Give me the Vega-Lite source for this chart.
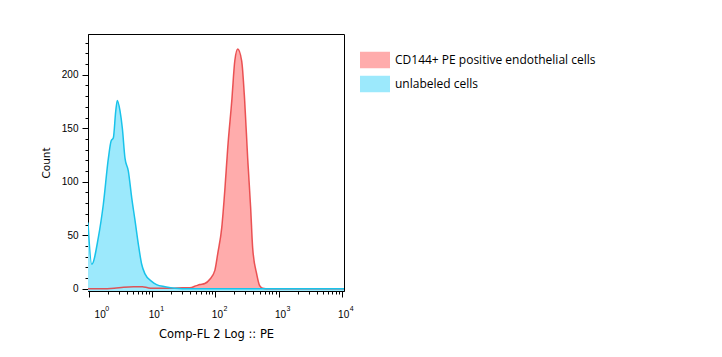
{
  "$schema": "https://vega.github.io/schema/vega-lite/v6.json",
  "width": 256,
  "height": 257,
  "autosize": {"type": "none"},
  "padding": {"left": 88, "top": 34, "right": 378, "bottom": 66},
  "background": "white",
  "config": {
    "view": {"stroke": "black", "strokeWidth": 1},
    "axis": {"grid": false, "domainColor": "black", "tickColor": "black", "labelColor": "black", "titleColor": "black", "domainWidth": 1, "tickWidth": 1},
    "legend": {"padding": 0}
  },
  "resolve": {"axis": {"x": "independent", "y": "independent"}},
  "datasets": {
    "hist": [
      {"series": "CD144+ PE positive endothelial cells", "x": 0.96, "count": 0},
      {"series": "CD144+ PE positive endothelial cells", "x": 1.5, "count": 0},
      {"series": "CD144+ PE positive endothelial cells", "x": 2.5, "count": 0.5},
      {"series": "CD144+ PE positive endothelial cells", "x": 3.5, "count": 1.5},
      {"series": "CD144+ PE positive endothelial cells", "x": 5, "count": 2},
      {"series": "CD144+ PE positive endothelial cells", "x": 7, "count": 2},
      {"series": "CD144+ PE positive endothelial cells", "x": 8.5, "count": 1},
      {"series": "CD144+ PE positive endothelial cells", "x": 10, "count": 0.5},
      {"series": "CD144+ PE positive endothelial cells", "x": 15, "count": 0.5},
      {"series": "CD144+ PE positive endothelial cells", "x": 20, "count": 0.5},
      {"series": "CD144+ PE positive endothelial cells", "x": 30, "count": 1},
      {"series": "CD144+ PE positive endothelial cells", "x": 39.4, "count": 1},
      {"series": "CD144+ PE positive endothelial cells", "x": 50, "count": 3},
      {"series": "CD144+ PE positive endothelial cells", "x": 56.7, "count": 4},
      {"series": "CD144+ PE positive endothelial cells", "x": 68, "count": 5},
      {"series": "CD144+ PE positive endothelial cells", "x": 81.6, "count": 9},
      {"series": "CD144+ PE positive endothelial cells", "x": 97.8, "count": 17},
      {"series": "CD144+ PE positive endothelial cells", "x": 109, "count": 33},
      {"series": "CD144+ PE positive endothelial cells", "x": 126, "count": 57},
      {"series": "CD144+ PE positive endothelial cells", "x": 141, "count": 92},
      {"series": "CD144+ PE positive endothelial cells", "x": 157, "count": 132},
      {"series": "CD144+ PE positive endothelial cells", "x": 182, "count": 176},
      {"series": "CD144+ PE positive endothelial cells", "x": 203, "count": 213},
      {"series": "CD144+ PE positive endothelial cells", "x": 226, "count": 224},
      {"series": "CD144+ PE positive endothelial cells", "x": 261, "count": 213},
      {"series": "CD144+ PE positive endothelial cells", "x": 291, "count": 176},
      {"series": "CD144+ PE positive endothelial cells", "x": 325, "count": 122},
      {"series": "CD144+ PE positive endothelial cells", "x": 362, "count": 76},
      {"series": "CD144+ PE positive endothelial cells", "x": 390, "count": 38},
      {"series": "CD144+ PE positive endothelial cells", "x": 451, "count": 14},
      {"series": "CD144+ PE positive endothelial cells", "x": 503, "count": 3},
      {"series": "CD144+ PE positive endothelial cells", "x": 561, "count": 0.5},
      {"series": "CD144+ PE positive endothelial cells", "x": 700, "count": 0},
      {"series": "CD144+ PE positive endothelial cells", "x": 10900, "count": 0},
      {"series": "unlabeled cells", "x": 0.96, "count": 62},
      {"series": "unlabeled cells", "x": 1.1, "count": 23},
      {"series": "unlabeled cells", "x": 1.4, "count": 48},
      {"series": "unlabeled cells", "x": 1.68, "count": 79},
      {"series": "unlabeled cells", "x": 2.02, "count": 122},
      {"series": "unlabeled cells", "x": 2.23, "count": 138},
      {"series": "unlabeled cells", "x": 2.42, "count": 141},
      {"series": "unlabeled cells", "x": 2.64, "count": 166},
      {"series": "unlabeled cells", "x": 2.8, "count": 176},
      {"series": "unlabeled cells", "x": 3.09, "count": 166},
      {"series": "unlabeled cells", "x": 3.36, "count": 150},
      {"series": "unlabeled cells", "x": 3.7, "count": 122},
      {"series": "unlabeled cells", "x": 4.18, "count": 110},
      {"series": "unlabeled cells", "x": 4.73, "count": 85},
      {"series": "unlabeled cells", "x": 5.33, "count": 64},
      {"series": "unlabeled cells", "x": 6.01, "count": 42},
      {"series": "unlabeled cells", "x": 6.8, "count": 23},
      {"series": "unlabeled cells", "x": 7.67, "count": 14},
      {"series": "unlabeled cells", "x": 9.78, "count": 7},
      {"series": "unlabeled cells", "x": 11.7, "count": 4},
      {"series": "unlabeled cells", "x": 15.9, "count": 2},
      {"series": "unlabeled cells", "x": 22.8, "count": 0.5},
      {"series": "unlabeled cells", "x": 40, "count": 0},
      {"series": "unlabeled cells", "x": 10900, "count": 0}
    ]
  },
  "data": {"name": "hist"},
  "layer": [
    {
      "transform": [{"filter": "datum.series == 'CD144+ PE positive endothelial cells'"}],
      "mark": {"type": "area", "interpolate": "monotone", "clip": true},
      "encoding": {
        "x": {"field": "x", "type": "quantitative",
          "scale": {"type": "log", "domain": [0.96, 10900], "nice": false, "zero": false},
          "axis": {"orient": "bottom", "title": "Comp-FL 2 Log :: PE", "values": [1, 10, 100, 1000, 10000], "tickSize": 6,
            "labelExpr": "'10'",
            "labelFont": "Liberation Sans", "labelFontSize": 10, "labelPadding": 20, "labelBaseline": "alphabetic",
            "labelOffset": {"condition": {"test": "datum.value == 1", "value": 5}, "value": 1.5},
            "labelAlign": {"condition": {"test": "datum.value == 1", "value": "left"}, "value": "center"},
            "labelFlush": false, "labelOverlap": false,
            "titleFont": "DejaVu Sans", "titleFontSize": 11.5, "titleFontWeight": "normal", "titlePadding": 9}},
        "y": {"field": "count", "type": "quantitative", "stack": null,
          "scale": {"domain": [-2, 238], "nice": false, "zero": false},
          "axis": {"orient": "left", "title": "Count", "values": [0, 50, 100, 150, 200], "tickSize": 6,
            "labelFont": "Liberation Sans", "labelFontSize": 10, "labelPadding": 4,
            "titleFont": "DejaVu Sans", "titleFontSize": 10.5, "titleFontWeight": "normal", "titlePadding": 10}},
        "y2": {"datum": -2},
        "fill": {"field": "series", "type": "nominal",
          "scale": {"domain": ["CD144+ PE positive endothelial cells", "unlabeled cells"], "range": ["#ffacac", "#9ce9fc"]},
          "legend": {"title": null, "orient": "none", "legendX": 272, "legendY": 11,
            "symbolType": "M-1,-0.55H1V0.55H-1Z", "symbolSize": 900, "symbolStrokeWidth": 0, "symbolOpacity": 1,
            "labelFont": "Open Sans", "labelFontSize": 12, "labelColor": "black", "labelOffset": 5, "labelLimit": 0, "rowPadding": -12}}
      }
    },
    {
      "transform": [{"filter": "datum.series == 'unlabeled cells'"}],
      "mark": {"type": "area", "interpolate": "monotone", "clip": true},
      "encoding": {
        "x": {"field": "x", "type": "quantitative",
          "axis": {"orient": "bottom", "title": null, "labels": false, "domain": false, "tickSize": 3,
            "values": [2,3,4,5,6,7,8,9,20,30,40,50,60,70,80,90,200,300,400,500,600,700,800,900,2000,3000,4000,5000,6000,7000,8000,9000]}},
        "y": {"field": "count", "type": "quantitative", "stack": null,
          "axis": {"orient": "left", "title": null, "labels": false, "domain": false, "tickSize": 3,
            "values": [10,20,30,40,60,70,80,90,110,120,130,140,160,170,180,190,210,220,230]}},
        "y2": {"datum": -2},
        "fill": {"field": "series", "type": "nominal"}
      }
    },
    {
      "transform": [{"filter": "datum.series == 'CD144+ PE positive endothelial cells'"}],
      "mark": {"type": "line", "interpolate": "monotone", "clip": true, "color": "#e63a3c", "strokeWidth": 1.5, "opacity": 0.85},
      "encoding": {
        "x": {"field": "x", "type": "quantitative",
          "axis": {"orient": "bottom", "title": null, "domain": false, "ticks": false, "tickSize": 6,
            "values": [1, 10, 100, 1000, 10000],
            "labelExpr": "format(round(log(datum.value)/LN10), 'd')",
            "labelFont": "Liberation Sans", "labelFontSize": 7, "labelPadding": 19, "labelBaseline": "alphabetic",
            "labelOffset": {"condition": {"test": "datum.value == 1", "value": 17.5}, "value": 9.5},
            "labelAlign": "center", "labelFlush": false, "labelOverlap": false}},
        "y": {"field": "count", "type": "quantitative", "axis": null}
      }
    },
    {
      "transform": [{"filter": "datum.series == 'unlabeled cells'"}],
      "mark": {"type": "line", "interpolate": "monotone", "clip": true, "color": "#19c3ea", "strokeWidth": 1.5},
      "encoding": {
        "x": {"field": "x", "type": "quantitative", "axis": null},
        "y": {"field": "count", "type": "quantitative", "axis": null}
      }
    }
  ]
}
